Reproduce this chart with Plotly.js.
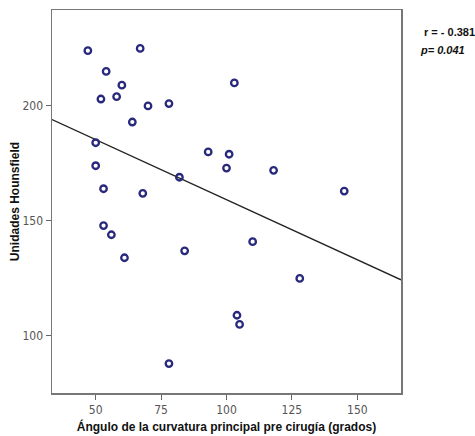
<!DOCTYPE html>
<html>
<head>
<meta charset="utf-8">
<script src="https://cdn.plot.ly/plotly-3.0.1.min.js"></script>
<style>html,body{margin:0;padding:0;background:#fff;}#chart{width:475px;height:436px;}</style>
</head>
<body>
<div id="chart"></div>
<script>
const angulo = [47, 67, 54, 60, 52, 58, 70, 78, 64, 103, 50, 50, 93, 101, 100, 82, 53, 68, 118, 145, 53, 56, 61, 84, 78, 104, 105, 110, 128];
const hounsfield = [224, 225, 215, 209, 203, 204, 200, 201, 193, 210, 184, 174, 180, 179, 173, 169, 164, 162, 172, 163, 148, 144, 134, 137, 88, 109, 105, 141, 125];
const xTicks = [50, 75, 100, 125, 150];
const yTicks = [100, 150, 200];
const xRange = [33.3, 166.7];
const yRange = [75.2, 241.7];

// least-squares fit line from the data
const n = angulo.length;
const mx = angulo.reduce((a,b)=>a+b,0)/n;
const my = hounsfield.reduce((a,b)=>a+b,0)/n;
let sxy=0, sxx=0;
for (let i=0;i<n;i++){ sxy += (angulo[i]-mx)*(hounsfield[i]-my); sxx += (angulo[i]-mx)**2; }
const slope = sxy/sxx, icpt = my - slope*mx;
const fitX = xRange.slice();
const fitY = fitX.map(x => icpt + slope*x);

const tickFont = {family: '"Liberation Sans Narrow", "Arial Narrow", "DejaVu Sans Condensed", "Liberation Sans", sans-serif', size: 12, color: '#555'};
const titleFont = {family: '"Liberation Sans", Arial, sans-serif', size: 12, color: '#111', weight: 'bold'};

const traces = [
  {x: fitX, y: fitY, mode: 'lines', line: {color: '#222', width: 1.3}, hoverinfo: 'skip', showlegend: false},
  {x: angulo, y: hounsfield, mode: 'markers', type: 'scatter',
   marker: {symbol: 'circle-open', size: 6.5, color: '#28287c', line: {width: 2.3, color: '#28287c'}}, showlegend: false}
];

const layout = {
  width: 475, height: 436,
  margin: {l: 52, r: 74, t: 10, b: 43},
  paper_bgcolor: '#fff', plot_bgcolor: '#fff',
  xaxis: {range: xRange, tickvals: xTicks, ticks: 'outside', ticklen: 5, tickcolor: '#666', tickwidth: 1,
          showgrid: false, zeroline: false, showline: true, linecolor: '#777', linewidth: 1.5, mirror: true,
          tickfont: tickFont,
          title: {text: '<b>Ángulo de la curvatura principal pre cirugía (grados)</b>', font: titleFont, standoff: 6}},
  yaxis: {range: yRange, tickvals: yTicks, ticks: 'outside', ticklen: 5, tickcolor: '#666', tickwidth: 1,
          showgrid: false, zeroline: false, showline: true, linecolor: '#777', linewidth: 1.5, mirror: true,
          tickfont: tickFont,
          title: {text: '<b>Unidades Hounsfield</b>', font: titleFont, standoff: 0}},
  annotations: [
    {xref: 'paper', yref: 'paper', x: 1.06, y: 0.943, xanchor: 'left', yanchor: 'middle', showarrow: false,
     text: '<b>r = - 0.381</b>', font: {family: '"Liberation Sans", Arial, sans-serif', size: 11, color: '#111'}},
    {xref: 'paper', yref: 'paper', x: 1.05, y: 0.896, xanchor: 'left', yanchor: 'middle', showarrow: false,
     text: '<b><i>p= 0.041</i></b>', font: {family: '"Liberation Sans", Arial, sans-serif', size: 11, color: '#111'}}
  ]
};
Plotly.newPlot('chart', traces, layout, {displayModeBar: false, staticPlot: true});
</script>
</body>
</html>
